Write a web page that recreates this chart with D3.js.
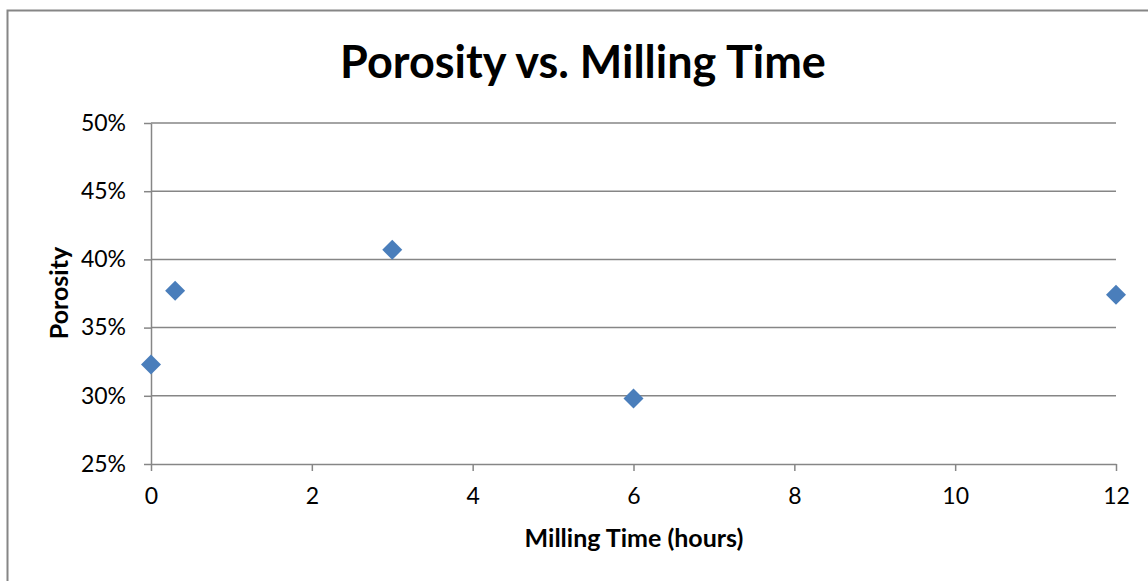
<!DOCTYPE html>
<html>
    <head>
        <meta charset="UTF-8">
        <title>Porosity vs. Milling Time</title>
        <style>
            body {margin:0; background:#fff;}
            text {font-family: Lato, "Liberation Sans", sans-serif; fill:#000;}
            .grid line {stroke:#868686; stroke-width:1.5px;}
            .axis path, .axis line {stroke:#868686; stroke-width:1.5px;}
            .axis text {font-size:23px; fill:#000;}
        </style>
        <script src="https://cdn.jsdelivr.net/npm/d3@7"></script>
    </head>
    <body>
        <svg width="1148" height="581"></svg>
        <script>
            // data
            var millingHours = [0, 0.3, 3, 6, 12];
            var porosity = [0.323, 0.377, 0.407, 0.298, 0.374];
            var xTicks = [0, 2, 4, 6, 8, 10, 12];
            var yTicks = [0.25, 0.30, 0.35, 0.40, 0.45, 0.50];

            var svg = d3.select("svg");
            var plotLeft = 151, plotRight = 1116, plotTop = 123, plotBottom = 464;

            // outer chart border
            svg.append("rect")
                .attr("x", 7.5).attr("y", 10.5)
                .attr("width", 1160).attr("height", 600)
                .attr("fill", "none").attr("stroke", "#868686").attr("stroke-width", 2);

            var x = d3.scaleLinear().domain([0, 12]).range([plotLeft, plotRight]);
            var y = d3.scaleLinear().domain([0.25, 0.50]).range([plotBottom, plotTop]);

            // horizontal gridlines
            svg.append("g").attr("class", "grid")
                .selectAll("line").data(yTicks.slice(1)).enter().append("line")
                .attr("x1", plotLeft).attr("x2", plotRight)
                .attr("y1", d => y(d)).attr("y2", d => y(d));

            svg.append("g").attr("class", "axis")
                .attr("transform", "translate(" + plotLeft + ",0)")
                .call(d3.axisLeft(y).tickValues(yTicks).tickFormat(d3.format(".0%")).tickSize(7).tickSizeOuter(0).tickPadding(18));

            svg.append("g").attr("class", "axis")
                .attr("transform", "translate(0," + plotBottom + ")")
                .call(d3.axisBottom(x).tickValues(xTicks).tickSize(7).tickSizeOuter(0).tickPadding(17));

            // diamond markers
            var diamond = d3.symbol().type(d3.symbolSquare).size(200);
            svg.append("g").selectAll("path")
                .data(millingHours).enter().append("path")
                .attr("d", diamond)
                .attr("fill", "#4A7EBB")
                .attr("transform", (d, i) => "translate(" + x(d) + "," + y(porosity[i]) + ") rotate(45)");

            // titles
            svg.append("text")
                .attr("x", 583).attr("y", 78)
                .attr("text-anchor", "middle")
                .style("font-size", "45px").style("font-weight", "bold")
                .text("Porosity vs. Milling Time");

            svg.append("text")
                .attr("x", 634).attr("y", 547)
                .attr("text-anchor", "middle")
                .style("font-size", "25px").style("font-weight", "bold")
                .text("Milling Time (hours)");

            svg.append("text")
                .attr("transform", "translate(68,293) rotate(-90)")
                .attr("text-anchor", "middle")
                .style("font-size", "25px").style("font-weight", "bold")
                .text("Porosity");
        </script>
    </body>
</html>
